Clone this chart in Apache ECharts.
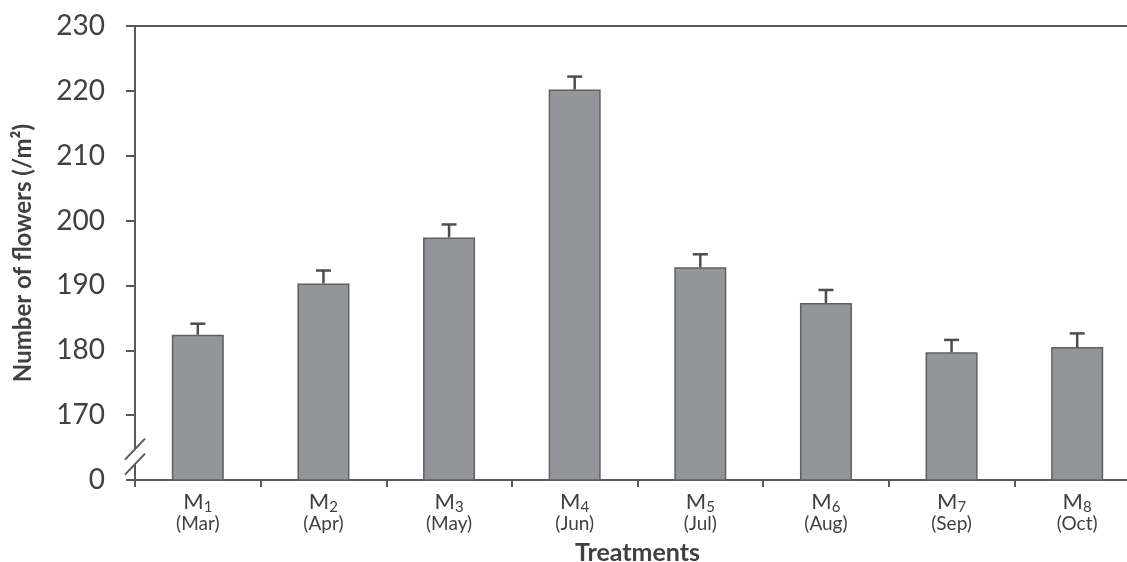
<!DOCTYPE html>
<html>
<head>
<meta charset="utf-8">
<script src="https://cdn.jsdelivr.net/npm/echarts@6/dist/echarts.min.js"></script>
<style>
  html, body { margin: 0; padding: 0; background: #fff; }
  #chart { width: 1127px; height: 562px; }
</style>
</head>
<body>
<div id="chart"></div>
<script>
// Treatments (sowing month) and flower counts per square metre
const treatments = ['M1', 'M2', 'M3', 'M4', 'M5', 'M6', 'M7', 'M8'];
const months = ['Mar', 'Apr', 'May', 'Jun', 'Jul', 'Aug', 'Sep', 'Oct'];
const flowers = [182.4, 190.3, 197.4, 220.2, 192.8, 187.3, 179.7, 180.5];
const errors = [1.7, 2.0, 2.0, 2.0, 2.0, 2.0, 1.9, 2.1];
// Axis runs 160..230; the bottom tick stands for 0 below the axis break
const yTicks = [160, 170, 180, 190, 200, 210, 220, 230];
const yTickLabels = ['0', '170', '180', '190', '200', '210', '220', '230'];

const AXIS = '#595959';
const TEXT = '#404040';
const FONT = 'Lato, "Open Sans", sans-serif';

const chart = echarts.init(document.getElementById('chart'));

const option = {
  backgroundColor: '#fff',
  animation: false,
  grid: { left: 135, right: -13, top: 26, bottom: 82, containLabel: false, outerBoundsMode: 'none' },
  xAxis: [{
    type: 'category',
    data: treatments,
    name: 'Treatments',
    nameLocation: 'middle',
    nameGap: 60,
    nameTextStyle: { fontFamily: FONT, fontWeight: 'bold', fontSize: 25, color: TEXT },
    axisLine: { lineStyle: { color: AXIS, width: 2 } },
    axisTick: { show: true, alignWithLabel: false, length: 7, lineStyle: { color: AXIS, width: 2 } },
    axisLabel: {
      margin: 9,
      interval: 0,
      formatter: (v, i) => '{m|M}{s|' + v.slice(1) + '}\n{p|(' + months[i] + ')}',
      rich: {
        m: { fontFamily: FONT, fontSize: 22, color: TEXT, lineHeight: 24, verticalAlign: 'bottom' },
        s: { fontFamily: FONT, fontSize: 15, color: TEXT, lineHeight: 24, verticalAlign: 'bottom', padding: [0, 0, -2, 0] },
        p: { fontFamily: FONT, fontSize: 19, color: TEXT, lineHeight: 22 }
      }
    }
  }, {
    type: 'category',
    position: 'top',
    data: treatments,
    axisLine: { lineStyle: { color: AXIS, width: 2 } },
    axisTick: { show: false },
    axisLabel: { show: false }
  }],
  yAxis: {
    type: 'value',
    min: 160,
    max: 230,
    interval: 10,
    name: 'Number of flowers (/m²)',
    nameLocation: 'middle',
    nameGap: 100,
    nameTextStyle: { fontFamily: FONT, fontWeight: 'bold', fontSize: 24, color: TEXT },
    axisLine: { show: true, lineStyle: { color: AXIS, width: 2 } },
    axisTick: { show: true, length: 9, lineStyle: { color: AXIS, width: 2 } },
    splitLine: { show: false },
    axisLabel: {
      margin: 30,
      fontFamily: FONT,
      fontSize: 28,
      color: TEXT,
      formatter: v => yTickLabels[yTicks.indexOf(v)]
    }
  },
  series: [{
    type: 'bar',
    data: flowers,
    barWidth: 52,
    itemStyle: { color: '#939598', borderColor: '#5f6062', borderWidth: 1.5 },
    z: 2
  }, {
    type: 'custom',
    data: flowers.map((v, i) => [i, v, errors[i]]),
    z: 3,
    renderItem: (params, api) => {
      const base = api.coord([api.value(0), api.value(1)]);
      const top = api.coord([api.value(0), api.value(1) + api.value(2)]);
      const half = 7.5;
      const style = { stroke: '#4d4d4f', lineWidth: 2.5, fill: null };
      return {
        type: 'group',
        children: [
          { type: 'line', shape: { x1: base[0], y1: base[1], x2: top[0], y2: top[1] }, style },
          { type: 'line', shape: { x1: top[0] - half, y1: top[1], x2: top[0] + half, y2: top[1] }, style }
        ]
      };
    }
  }]
};

chart.setOption(option);

// Axis break marks between 0 and 170, drawn across the y-axis line
function drawBreak() {
  const y = chart.convertToPixel({ yAxisIndex: 0 }, 163.6);
  const ax = chart.convertToPixel({ xAxisIndex: 0 }, 0) - chart.getModel().getComponent('xAxis', 0).axis.getBandWidth() / 2;
  const dx = 10, dy = 10.5, sep = 7.5;
  const lineStyle = { stroke: AXIS, lineWidth: 2 };
  chart.setOption({
    graphic: [
      { type: 'polygon', z: 100,
        shape: { points: [[ax - dx, y - sep + dy], [ax + dx, y - sep - dy], [ax + dx, y + sep - dy], [ax - dx, y + sep + dy]] },
        style: { fill: '#fff' } },
      { type: 'line', z: 101, shape: { x1: ax - dx, y1: y - sep + dy, x2: ax + dx, y2: y - sep - dy }, style: lineStyle },
      { type: 'line', z: 101, shape: { x1: ax - dx, y1: y + sep + dy, x2: ax + dx, y2: y + sep - dy }, style: lineStyle }
    ]
  });
}
drawBreak();
</script>
</body>
</html>
